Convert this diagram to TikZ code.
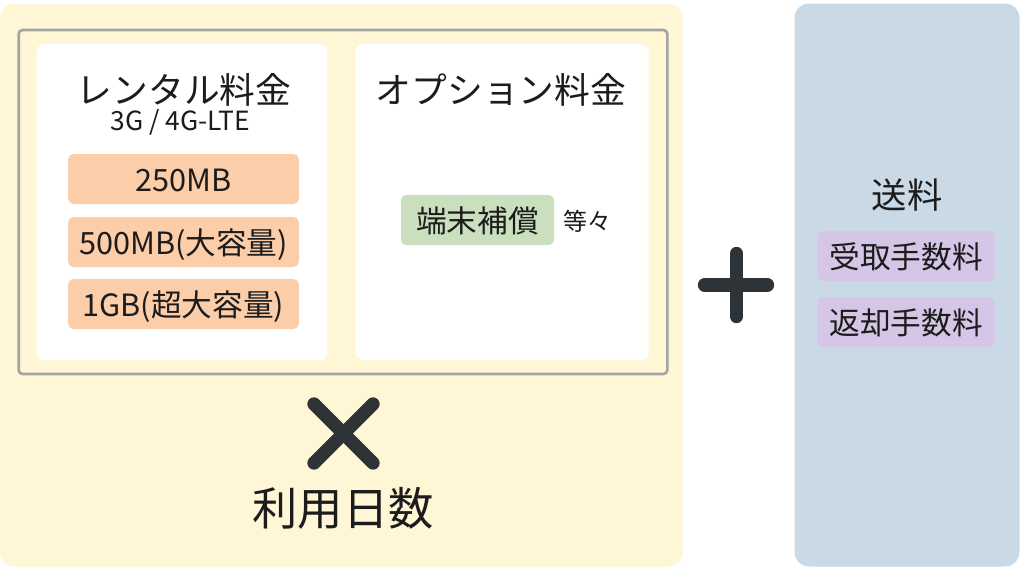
\documentclass[tikz,border=0pt]{standalone}
\usepackage{fontspec}
\setmainfont{Noto Sans CJK JP}
\usepackage{xcolor}
\usetikzlibrary{positioning}
\definecolor{panelyellow}{HTML}{FEF6D5}
\definecolor{panelblue}{HTML}{C9D9E6}
\definecolor{tagorange}{HTML}{FCCDA9}
\definecolor{taggreen}{HTML}{C9DFBE}
\definecolor{tagpurple}{HTML}{D5C6E8}
\definecolor{framegray}{HTML}{A3A5A5}
\definecolor{markdark}{HTML}{2E3338}
\definecolor{inkdark}{HTML}{1C1C1C}
\tikzstyle{panel}=[rectangle, rounded corners=11pt, minimum width=510pt, inner sep=0pt]
\tikzstyle{card}=[rectangle, fill=white, rounded corners=6pt, minimum height=237pt, inner sep=0pt]
\tikzstyle{tag}=[rectangle, rounded corners=4pt, text=inkdark, inner sep=0pt, text height=22pt, text depth=3pt, font=\fontsize{23}{28}\selectfont]
\tikzstyle{heading}=[text=inkdark, inner sep=0pt, font=\fontsize{26.8}{32}\selectfont]
\tikzstyle{signstroke}=[line width=10pt, line cap=round, draw=markdark]
\begin{document}
\begin{tikzpicture}[x=0.75pt, y=-0.75pt]
    \useasboundingbox (0,0) rectangle (1024,572);
    \fill[white] (0,0) rectangle (1024,572);

    \node[panel, fill=panelyellow, minimum width=512pt, minimum height=422.25pt] (costpanel) at (341.5,285) {};
    \node[panel, fill=panelblue, minimum width=168.75pt, minimum height=422.25pt] (feepanel) at (907,285) {};
    \node[rectangle, draw=framegray, line width=2pt, rounded corners=3pt, minimum width=486.5pt, minimum height=258pt, inner sep=0pt] (frame) at (343,202) {};

    \node[card, minimum width=218pt] (rentalcard) at (182,202) {};
    \node[card, minimum width=220pt] (optioncard) at (502,202) {};

    \node[heading] (rentaltitle) at (184,89.5) {レンタル料金};
    \node[inner sep=0pt, text=inkdark, font=\fontsize{19.8}{24}\selectfont] (speedlabel) at (180.5,122) {3G / 4G-LTE};
    \node[tag, fill=tagorange, minimum width=173pt, minimum height=37.5pt] (plana) at (183.5,179) {250MB};
    \node[tag, fill=tagorange, minimum width=173pt, minimum height=37.5pt] (planb) at (183.5,242) {500MB(大容量)};
    \node[tag, fill=tagorange, minimum width=173pt, minimum height=37.5pt] (planc) at (183.5,304) {1GB(超大容量)};

    \node[heading] (optiontitle) at (501,89.5) {オプション料金};
    \node[tag, fill=taggreen, minimum width=115pt, minimum height=37.5pt] (insurance) at (477.5,220) {端末補償};
    \node[inner sep=0pt, text=inkdark, font=\fontsize{18}{22}\selectfont] (others) at (587,221) {等々};

    \node[inner sep=0pt, text=inkdark, font=\fontsize{34}{40}\selectfont] (days) at (343,508) {利用日数};
    \coordinate (crossa) at (314,404);
    \coordinate (crossb) at (373,463);
    \coordinate (crossc) at (373,404);
    \coordinate (crossd) at (314,463);
    \draw[signstroke] (crossa) -- (crossb);
    \draw[signstroke] (crossc) -- (crossd);

    \coordinate (plusl) at (704.5,285);
    \coordinate (plusr) at (767.5,285);
    \coordinate (plust) at (736.5,253.5);
    \coordinate (plusb) at (736.5,316.5);
    \draw[signstroke] (plusl) -- (plusr);
    \draw[signstroke] (plust) -- (plusb);

    \node[inner sep=0pt, text=inkdark, font=\fontsize{26.5}{32}\selectfont] (shipping) at (907,195) {送料};
    \node[tag, fill=tagpurple, minimum width=133pt, minimum height=37.5pt] (receive) at (906,256) {受取手数料};
    \node[tag, fill=tagpurple, minimum width=133pt, minimum height=37.5pt] (giveback) at (906,322) {返却手数料};
\end{tikzpicture}
\end{document}
